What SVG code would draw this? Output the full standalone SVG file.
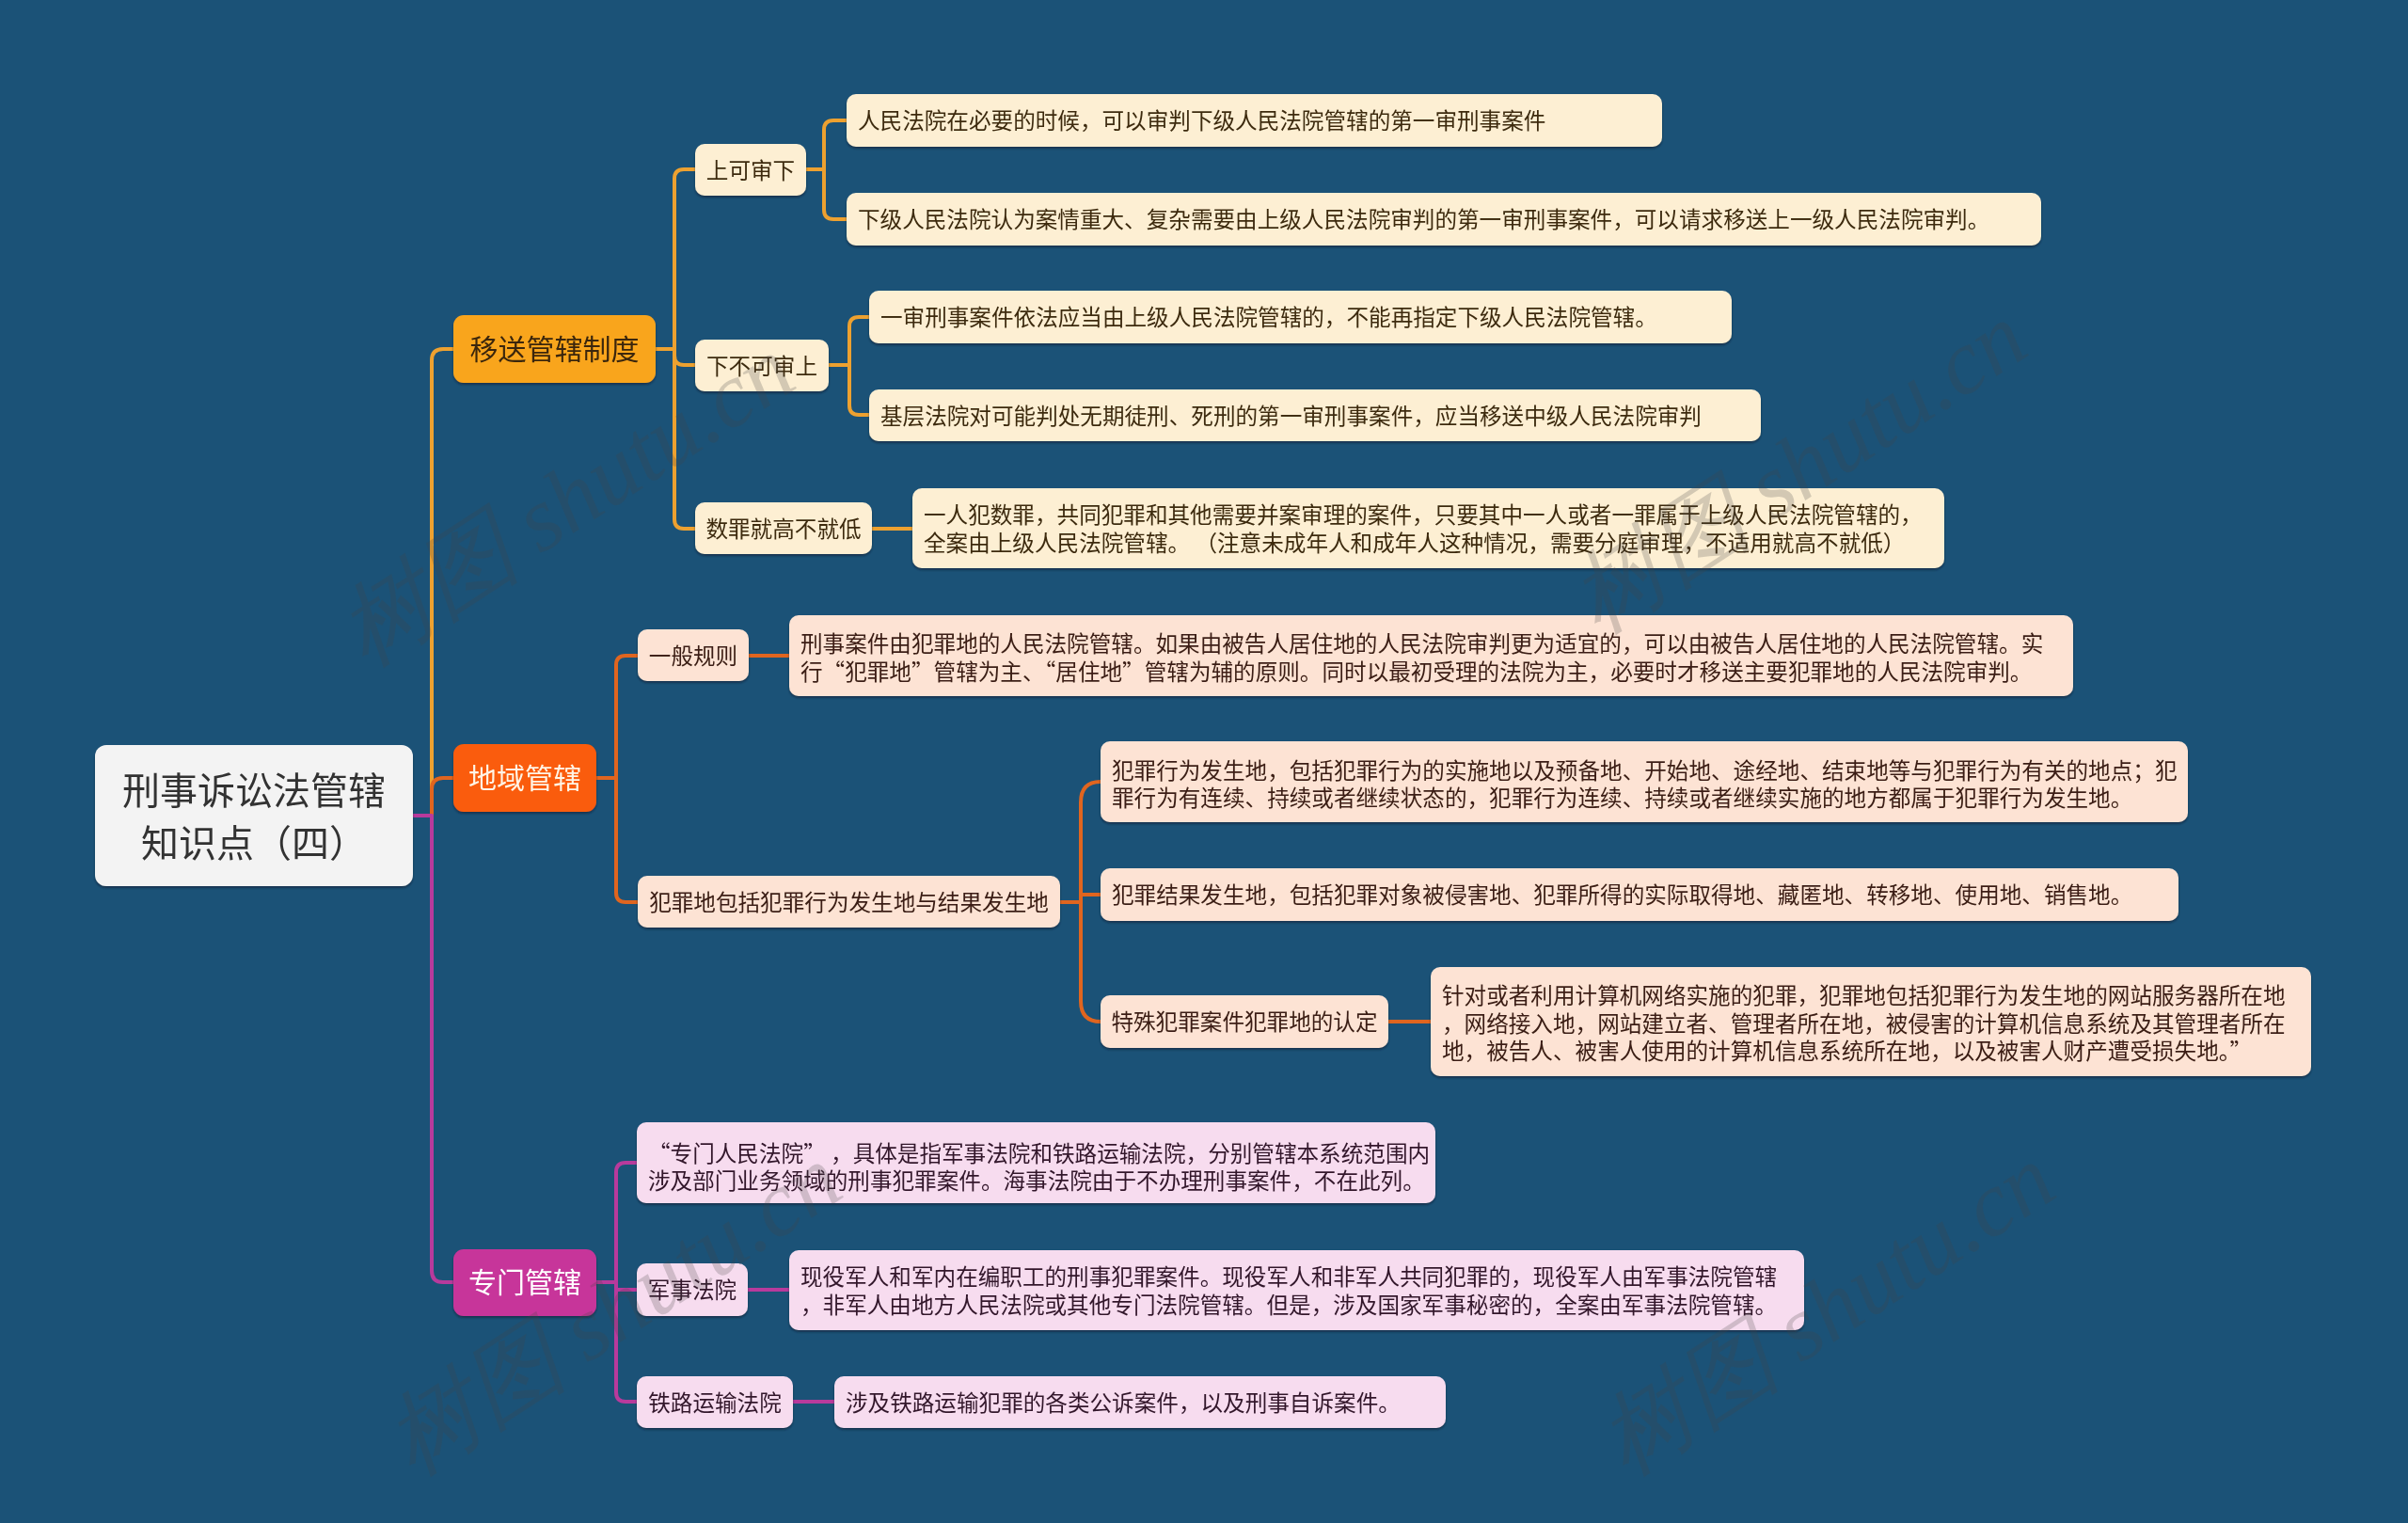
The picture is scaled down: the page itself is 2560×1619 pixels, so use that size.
<svg xmlns="http://www.w3.org/2000/svg" width="2560" height="1619" viewBox="0 0 2560 1619">
<style>
text{font-family:"Noto Sans CJK SC","Microsoft YaHei",sans-serif;}
.c{fill:none;stroke-width:4;stroke-linecap:round;stroke-linejoin:round;}
.co{stroke:#eda130;}
.cr{stroke:#e0651f;}
.cm{stroke:#b83a9c;}
.n{filter:url(#sh);}
.cream{fill:#fdefd3;}
.peach{fill:#fde3d4;}
.pink{fill:#f7dcef;}
.t{font-size:23.6px;}
.tc{fill:#3d2b10;}
.tp{fill:#3a1e12;}
.tk{fill:#33182c;}
.mid{text-anchor:middle;}
.wm{font-family:"Liberation Serif",serif;font-style:italic;font-size:98px;fill:#444;opacity:0.22;}
</style>
<defs>
<filter id="sh" x="-5%" y="-10%" width="110%" height="130%">
<feDropShadow dx="0" dy="2" stdDeviation="1" flood-color="#0a2236" flood-opacity="0.6"/>
</filter>
</defs>
<rect x="0" y="0" width="2560" height="1619" fill="#1b5277"/>

<g id="connectors">
<path class="c co" d="M439 867H459V383Q459 371 471 371H482"/>
<path class="c cr" d="M439 867H459V839Q459 827 471 827H482"/>
<path class="c cm" d="M439 867H459V1351Q459 1363 471 1363H482"/>

<path class="c co" d="M697 371H717M717 371V190Q717 180 727 180H739M717 371V378Q717 388 727 388H739M717 371V552Q717 562 727 562H739"/>
<path class="c co" d="M857 180H876M876 180V138Q876 128 886 128H900M876 180V223Q876 233 886 233H900"/>
<path class="c co" d="M881 388H903M903 388V347Q903 337 913 337H924M903 388V431Q903 441 913 441H924"/>
<path class="c co" d="M927 562H970"/>

<path class="c cr" d="M634 827H655M655 827V707Q655 697 665 697H678M655 827V949Q655 959 665 959H678"/>
<path class="c cr" d="M796 697H839"/>
<path class="c cr" d="M1127 959H1149M1149 959V853Q1149 831 1170 831M1149 959V951H1170M1149 959V1064Q1149 1086 1170 1086"/>
<path class="c cr" d="M1476 1086H1521"/>

<path class="c cm" d="M634 1363H655M655 1363V1246Q655 1236 665 1236H677M655 1363V1371H677M655 1363V1480Q655 1490 665 1490H677"/>
<path class="c cm" d="M795 1371H839"/>
<path class="c cm" d="M843 1490H887"/>
</g>

<g id="root" class="n">
<rect x="101" y="792" width="338" height="150" rx="12" fill="#f3f3f3"/>
<text x="270" y="855" class="mid" font-size="40" fill="#333">刑事诉讼法管辖</text>
<text x="270" y="911" class="mid" font-size="40" fill="#333">知识点（四）</text>
</g>

<g id="n-yisong" class="n">
<rect x="482" y="335" width="215" height="72" rx="11" fill="#f9a51e"/>
<text x="589.5" y="382" class="mid" font-size="30" fill="#3a2608">移送管辖制度</text>
</g>
<g id="n-diyu" class="n">
<rect x="482" y="791" width="152" height="72" rx="11" fill="#fa5c07"/>
<text x="558" y="838" class="mid" font-size="30" fill="#fff4e6">地域管辖</text>
</g>
<g id="n-zhuanmen" class="n">
<rect x="482" y="1328" width="152" height="71" rx="11" fill="#c7359a"/>
<text x="558" y="1374" class="mid" font-size="30" fill="#fff">专门管辖</text>
</g>

<g id="n-shangke" class="n">
<rect class="cream" x="739" y="153" width="118" height="55" rx="10"/>
<text class="t tc mid" x="798" y="189.5">上可审下</text>
</g>
<g id="n-xiabuke" class="n">
<rect class="cream" x="739" y="361" width="142" height="55" rx="10"/>
<text class="t tc mid" x="810" y="397.5">下不可审上</text>
</g>
<g id="n-shuzui" class="n">
<rect class="cream" x="739" y="534" width="188" height="55" rx="10"/>
<text class="t tc mid" x="833" y="570.5">数罪就高不就低</text>
</g>

<g id="l-1" class="n">
<rect class="cream" x="900" y="100" width="867" height="56" rx="10"/>
<text class="t tc" x="912" y="137">人民法院在必要的时候，可以审判下级人民法院管辖的第一审刑事案件</text>
</g>
<g id="l-2" class="n">
<rect class="cream" x="900" y="205" width="1270" height="56" rx="10"/>
<text class="t tc" x="912" y="242">下级人民法院认为案情重大、复杂需要由上级人民法院审判的第一审刑事案件，可以请求移送上一级人民法院审判。</text>
</g>
<g id="l-3" class="n">
<rect class="cream" x="924" y="309" width="917" height="56" rx="10"/>
<text class="t tc" x="936" y="346">一审刑事案件依法应当由上级人民法院管辖的，不能再指定下级人民法院管辖。</text>
</g>
<g id="l-4" class="n">
<rect class="cream" x="924" y="414" width="948" height="55" rx="10"/>
<text class="t tc" x="936" y="450.5">基层法院对可能判处无期徒刑、死刑的第一审刑事案件，应当移送中级人民法院审判</text>
</g>
<g id="l-5" class="n">
<rect class="cream" x="970" y="519" width="1097" height="85" rx="10"/>
<text class="t tc" x="982" y="556">一人犯数罪，共同犯罪和其他需要并案审理的案件，只要其中一人或者一罪属于上级人民法院管辖的，</text>
<text class="t tc" x="982" y="586">全案由上级人民法院管辖。 （注意未成年人和成年人这种情况，需要分庭审理，不适用就高不就低）</text>
</g>

<g id="n-yiban" class="n">
<rect class="peach" x="678" y="669" width="118" height="55" rx="10"/>
<text class="t tp mid" x="737" y="705.5">一般规则</text>
</g>
<g id="n-fanzuidi" class="n">
<rect class="peach" x="678" y="931" width="449" height="55" rx="10"/>
<text class="t tp mid" x="902.5" y="967.5">犯罪地包括犯罪行为发生地与结果发生地</text>
</g>
<g id="l-6" class="n">
<rect class="peach" x="839" y="654" width="1365" height="86" rx="10"/>
<text class="t tp" x="851" y="693">刑事案件由犯罪地的人民法院管辖。如果由被告人居住地的人民法院审判更为适宜的，可以由被告人居住地的人民法院管辖。实</text>
<text class="t tp" x="851" y="723">行“犯罪地”管辖为主、“居住地”管辖为辅的原则。同时以最初受理的法院为主，必要时才移送主要犯罪地的人民法院审判。</text>
</g>
<g id="l-7" class="n">
<rect class="peach" x="1170" y="788" width="1156" height="86" rx="10"/>
<text class="t tp" x="1182" y="828">犯罪行为发生地，包括犯罪行为的实施地以及预备地、开始地、途经地、结束地等与犯罪行为有关的地点；犯</text>
<text class="t tp" x="1182" y="857">罪行为有连续、持续或者继续状态的，犯罪行为连续、持续或者继续实施的地方都属于犯罪行为发生地。</text>
</g>
<g id="l-8" class="n">
<rect class="peach" x="1170" y="923" width="1146" height="56" rx="10"/>
<text class="t tp" x="1182" y="960">犯罪结果发生地，包括犯罪对象被侵害地、犯罪所得的实际取得地、藏匿地、转移地、使用地、销售地。</text>
</g>
<g id="n-teshu" class="n">
<rect class="peach" x="1170" y="1058" width="306" height="56" rx="10"/>
<text class="t tp mid" x="1323" y="1095">特殊犯罪案件犯罪地的认定</text>
</g>
<g id="l-9" class="n">
<rect class="peach" x="1521" y="1028" width="936" height="116" rx="10"/>
<text class="t tp" x="1533" y="1067">针对或者利用计算机网络实施的犯罪，犯罪地包括犯罪行为发生地的网站服务器所在地</text>
<text class="t tp" x="1533" y="1097">，网络接入地，网站建立者、管理者所在地，被侵害的计算机信息系统及其管理者所在</text>
<text class="t tp" x="1533" y="1126">地，被告人、被害人使用的计算机信息系统所在地，以及被害人财产遭受损失地。”</text>
</g>

<g id="l-10" class="n">
<rect class="pink" x="677" y="1193" width="849" height="86" rx="10"/>
<text class="t tk" x="689" y="1235">“专门人民法院” ，具体是指军事法院和铁路运输法院，分别管辖本系统范围内</text>
<text class="t tk" x="689" y="1264">涉及部门业务领域的刑事犯罪案件。海事法院由于不办理刑事案件，不在此列。</text>
</g>
<g id="n-junshi" class="n">
<rect class="pink" x="677" y="1343" width="118" height="56" rx="10"/>
<text class="t tk mid" x="736" y="1380">军事法院</text>
</g>
<g id="l-11" class="n">
<rect class="pink" x="839" y="1329" width="1079" height="85" rx="10"/>
<text class="t tk" x="851" y="1366">现役军人和军内在编职工的刑事犯罪案件。现役军人和非军人共同犯罪的，现役军人由军事法院管辖</text>
<text class="t tk" x="851" y="1396">，非军人由地方人民法院或其他专门法院管辖。但是，涉及国家军事秘密的，全案由军事法院管辖。</text>
</g>
<g id="n-tielu" class="n">
<rect class="pink" x="677" y="1463" width="166" height="55" rx="10"/>
<text class="t tk mid" x="760" y="1499.5">铁路运输法院</text>
</g>
<g id="l-12" class="n">
<rect class="pink" x="887" y="1463" width="650" height="55" rx="10"/>
<text class="t tk" x="899" y="1499.5">涉及铁路运输犯罪的各类公诉案件，以及刑事自诉案件。</text>
</g>

<g id="watermark">
<text class="wm" text-anchor="middle" transform="translate(620 560) rotate(-33)">树图 shutu.cn</text>
<text class="wm" text-anchor="middle" transform="translate(1930 525) rotate(-33)">树图 shutu.cn</text>
<text class="wm" text-anchor="middle" transform="translate(670 1420) rotate(-33)">树图 shutu.cn</text>
<text class="wm" text-anchor="middle" transform="translate(1960 1420) rotate(-33)">树图 shutu.cn</text>
</g>
</svg>
